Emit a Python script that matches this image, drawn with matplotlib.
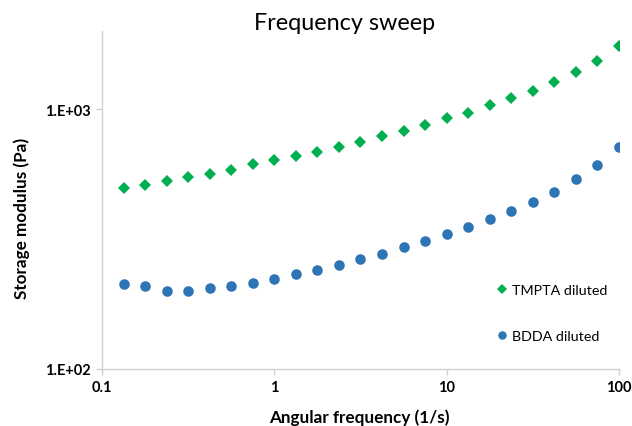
import numpy as np
import matplotlib
matplotlib.use("Agg")
import matplotlib.pyplot as plt
from matplotlib.ticker import FixedLocator, FixedFormatter, NullLocator

freq = [0.1334, 0.1778, 0.2371, 0.3162, 0.4217, 0.5623, 0.7499, 1.0,
        1.334, 1.778, 2.371, 3.162, 4.217, 5.623, 7.499, 10.0,
        13.34, 17.78, 23.71, 31.62, 42.17, 56.23, 74.99, 100.0]
tmpta = [497, 511, 531, 546, 565, 584, 614, 638,
         662, 686, 717, 751, 790, 826, 866, 921,
         968, 1039, 1105, 1175, 1272, 1395, 1531, 1748]
bdda = [211.7, 208.5, 199, 200.4, 205, 209.3, 214.9, 222.6,
        231.8, 241, 251.8, 264, 278.3, 294.2, 312.1, 331.1,
        352.2, 376.6, 406.6, 439, 479.6, 540.8, 610, 713.3]
xticks = [0.1, 1, 10, 100]
xticklabels = ["0.1", "1", "10", "100"]
yticks = [100, 1000]
yticklabels = ["1.E+02", "1.E+03"]

plt.rcParams['font.family'] = ['Lato', 'DejaVu Sans']

W, H = 632, 427
fig = plt.figure(figsize=(W / 100, H / 100), dpi=100)
ax = fig.add_axes([102 / W, 57 / H, 517 / W, 338 / H])

green = "#00B050"
blue = "#2E75B6"
ax.plot(freq, tmpta, linestyle="none", marker="D", markersize=5.8,
        color=green, markeredgewidth=0, label="TMPTA diluted")
ax.plot(freq, bdda, linestyle="none", marker="o", markersize=7.6,
        color=blue, markeredgewidth=0, label="BDDA diluted")

ax.set_xscale("log")
ax.set_yscale("log")
ax.set_xlim(0.1, 100)
ax.set_ylim(100, 2000)
ax.xaxis.set_major_locator(FixedLocator(xticks))
ax.xaxis.set_major_formatter(FixedFormatter(xticklabels))
ax.yaxis.set_major_locator(FixedLocator(yticks))
ax.yaxis.set_major_formatter(FixedFormatter(yticklabels))
ax.xaxis.set_minor_locator(NullLocator())
ax.yaxis.set_minor_locator(NullLocator())

for s in ["top", "right"]:
    ax.spines[s].set_visible(False)
for s in ["left", "bottom"]:
    ax.spines[s].set_color("#d0d0d0")
    ax.spines[s].set_linewidth(1.0)
ax.tick_params(axis="both", which="major", length=4, width=1.0,
               color="#d0d0d0", labelsize=10.5, labelcolor="black", pad=4)
for lab in ax.get_xticklabels() + ax.get_yticklabels():
    lab.set_fontweight("bold")

fig.text(359 / W, 1 - 418 / H, "Angular frequency (1/s)", ha="center", va="center",
         fontsize=12.3, fontweight="bold")
fig.text(22 / W, 1 - 218 / H, "Storage modulus (Pa)", ha="center", va="center",
         rotation=90, fontsize=12.3, fontweight="bold")
fig.text(345 / W, 1 - 24 / H, "Frequency sweep", ha="center", va="center", fontsize=16.8)

ax.legend(loc="center left", bbox_to_anchor=(0.749, 0.165), frameon=False,
          fontsize=10.3, labelspacing=2.35, handlelength=0.8, handletextpad=0.3,
          borderpad=0, markerscale=0.8)

fig.savefig("out.png", dpi=100)
